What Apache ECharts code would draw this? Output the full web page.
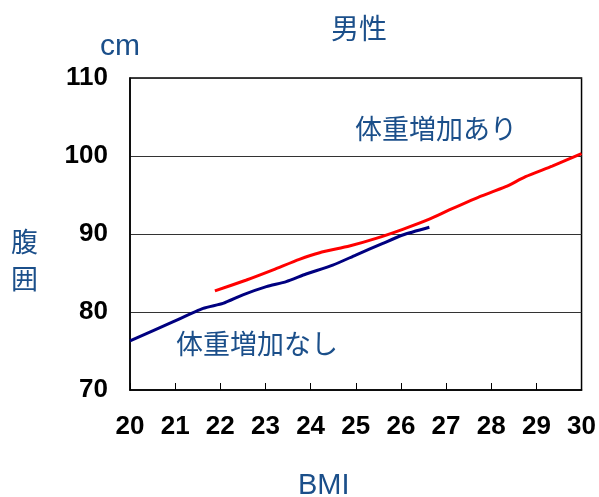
<!DOCTYPE html>
<html><head><meta charset="utf-8">
<script src="https://cdn.jsdelivr.net/npm/echarts@6/dist/echarts.min.js"></script>
<style>html,body{margin:0;padding:0;background:#fff}#c{width:599px;height:497px}</style>
</head><body><div id="c"></div>
<script>
const bmiNo = [20.0, 20.96, 21.62, 22.06, 22.5, 23.02, 23.46, 23.9, 24.49, 25.0, 25.6, 26.04, 26.63];
const waistNo = [76.3, 78.76, 80.47, 81.1, 82.2, 83.25, 83.9, 84.87, 86.0, 87.3, 88.8, 89.87, 90.86];
const bmiGain = [21.88, 22.58, 23.17, 23.75, 24.2, 24.86, 25.45, 26.04, 26.63, 27.07, 27.66, 28.32, 28.76, 29.35, 30.0];
const waistGain = [82.7, 84.1, 85.4, 86.75, 87.6, 88.46, 89.44, 90.6, 91.9, 93.08, 94.58, 96.06, 97.35, 98.7, 100.3];
const xTicks = [20, 30, 1];
const yTicks = [70, 110, 10];
const labels = {title: '男性', unit: 'cm', yName: '腹囲', xName: 'BMI', gain: '体重増加あり', noGain: '体重増加なし'};

const blue = '#1b4f8a';
const cjk = '"Noto Sans CJK JP", "Liberation Sans", sans-serif';
const lat = '"Liberation Sans", Arial, sans-serif';
const chart = echarts.init(document.getElementById('c'));
chart.setOption({
  animation: false,
  grid: {left: 130, right: 16, top: 78, bottom: 107, show: true, borderColor: '#000', borderWidth: 1.5, backgroundColor: 'transparent'},
  xAxis: {
    type: 'value', min: xTicks[0], max: xTicks[1], interval: xTicks[2],
    axisLine: {lineStyle: {color: '#000', width: 1.5}},
    axisTick: {inside: true, length: 7, lineStyle: {color: '#000', width: 1}},
    axisLabel: {color: '#000', fontFamily: lat, fontWeight: 'bold', fontSize: 26, margin: 24},
    splitLine: {show: false}
  },
  yAxis: {
    type: 'value', min: yTicks[0], max: yTicks[1], interval: yTicks[2],
    axisLine: {show: true, lineStyle: {color: '#000', width: 1.5}},
    axisTick: {show: false},
    axisLabel: {color: '#000', fontFamily: lat, fontWeight: 'bold', fontSize: 26, margin: 22},
    splitLine: {show: true, lineStyle: {color: '#333', width: 1}}
  },
  series: [
    {type: 'line', data: bmiNo.map((x, i) => [x, waistNo[i]]), showSymbol: false, smooth: 0.2,
     lineStyle: {color: '#000080', width: 3}},
    {type: 'line', data: bmiGain.map((x, i) => [x, waistGain[i]]), showSymbol: false, smooth: 0.2,
     lineStyle: {color: '#ff0000', width: 3}}
  ],
  graphic: [
    {type: 'text', left: 331, top: 14, style: {text: labels.title, fill: blue, font: '28px ' + cjk}},
    {type: 'text', left: 100, top: 32, style: {text: labels.unit, fill: blue, font: '30px ' + lat}},
    {type: 'text', left: 11, top: 223, style: {text: labels.yName.split('').join('\n'), fill: blue, font: '27px ' + cjk, lineHeight: 37}},
    {type: 'text', left: 298, top: 471, style: {text: labels.xName, fill: blue, font: '29px ' + lat}},
    {type: 'text', left: 355, top: 115, style: {text: labels.gain, fill: blue, font: '27px ' + cjk}},
    {type: 'text', left: 176, top: 330, style: {text: labels.noGain, fill: blue, font: '27px ' + cjk}}
  ]
});
</script></body></html>
